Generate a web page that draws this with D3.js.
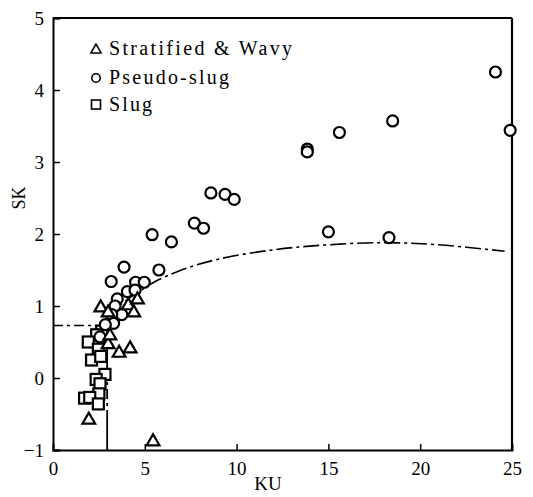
<!DOCTYPE html>
<html><head><meta charset="utf-8">
<script src="https://cdn.jsdelivr.net/npm/d3@7"></script>
<style>body{margin:0;background:#fff}svg{display:block}text{font-family:"Liberation Serif","DejaVu Serif",serif;fill:#000}</style>
</head><body><svg id="c" width="533" height="497"></svg>
<script>
const xTicks = [0,5,10,15,20,25];
const yTicks = [-1,0,1,2,3,4,5];
const legendLabels = ["Stratified & Wavy","Pseudo-slug","Slug"];
const stratified = [[2.6,0.99],[3.0,0.92],[4.1,1.02],[4.6,1.1],[4.4,0.92],[3.0,0.48],[3.6,0.36],[4.2,0.42],[3.1,0.6],[1.95,-0.57],[5.45,-0.87]];
const pseudoSlug = [[24.1,4.25],[24.9,3.44],[18.5,3.57],[15.6,3.41],[13.85,3.18],[13.85,3.14],[15.0,2.03],[18.3,1.95],
 [8.6,2.57],[9.37,2.55],[9.87,2.48],[7.7,2.15],[8.2,2.08],[5.4,1.99],[6.45,1.89],[5.77,1.5],
 [3.87,1.54],[3.17,1.34],[4.5,1.33],[4.97,1.33],[4.05,1.2],[4.47,1.22],[3.5,1.1],[3.38,1.0],[3.75,0.88],[3.2,0.88],[3.3,0.76],[2.85,0.74],[2.56,0.57]];
const slug = [[2.65,0.65],[2.38,0.6],[1.92,0.5],[2.47,0.4],[2.1,0.25],[2.6,0.3],[2.83,0.05],[2.35,-0.02],[2.56,-0.08],[2.5,-0.22],[1.72,-0.28],[2.0,-0.27],[2.47,-0.36]];
const boundaryCurve = [[3.0,0.78],[3.5,0.97],[4,1.08],[4.7,1.2],[5.5,1.33],[7,1.5],[9,1.65],[12,1.78],[15,1.85],[18,1.88],[21,1.85],[24.6,1.76]];
const boundaryHoriz = [[0,0.73],[2.95,0.73]];
const boundaryVert = [[2.95,-1],[2.95,0.73]];

const svg = d3.select("#c");
const x = d3.scaleLinear().domain([0,25]).range([53,512]);
const y = d3.scaleLinear().domain([-1,5]).range([450,18]);

// frame
svg.append("line").attr("x1",x(0)).attr("x2",x(25)).attr("y1",y(5)).attr("y2",y(5)).attr("stroke","#000").attr("stroke-width",2);
svg.append("line").attr("x1",x(25)).attr("x2",x(25)).attr("y1",y(5)).attr("y2",y(-1)).attr("stroke","#000").attr("stroke-width",2.2);

const xAxis = svg.append("g").attr("transform",`translate(0,${y(-1)})`)
  .call(d3.axisBottom(x).tickValues(xTicks).tickSize(-6).tickPadding(12).tickFormat(d3.format("d")));
const yAxis = svg.append("g").attr("transform",`translate(${x(0)},0)`)
  .call(d3.axisLeft(y).tickValues(yTicks).tickSize(-7).tickPadding(9).tickFormat(d=>d<0?"\u2212"+(-d):d));
[xAxis,yAxis].forEach(g=>{
  g.select(".domain").attr("stroke","#000").attr("stroke-width",2);
  g.selectAll(".tick line").attr("stroke","#000").attr("stroke-width",1.5);
  g.selectAll("text").style("font-size","19px").attr("fill","#000");
});
xAxis.selectAll(".tick").filter(d=>d===0||d===25).select("line").remove();

svg.append("text").attr("x",268).attr("y",490).attr("text-anchor","middle").style("font-size","19px").text("KU");
svg.append("text").attr("transform","translate(25,198) rotate(-90)").attr("text-anchor","middle").style("font-size","18px").text("SK");

// boundaries
const line = d3.line().x(d=>x(d[0])).y(d=>y(d[1]));
svg.append("path").datum(boundaryCurve).attr("d",line.curve(d3.curveCatmullRom)).attr("fill","none").attr("stroke","#000").attr("stroke-width",1.6).attr("stroke-dasharray","16,4,3,4");
svg.append("path").datum(boundaryHoriz).attr("d",d3.line().x(d=>x(d[0])).y(d=>y(d[1]))).attr("fill","none").attr("stroke","#000").attr("stroke-width",1.6).attr("stroke-dasharray","10,4,3,4");
svg.append("path").datum(boundaryVert).attr("d",d3.line().x(d=>x(d[0])).y(d=>y(d[1]))).attr("fill","none").attr("stroke","#000").attr("stroke-width",1.8).attr("stroke-dasharray","40,4,3,4,10,4,3,4");

// markers
const sw = 2.2;
svg.append("g").selectAll("rect").data(slug).join("rect")
  .attr("x",d=>x(d[0])-5.5).attr("y",d=>y(d[1])-5.5).attr("width",11).attr("height",11)
  .attr("fill","#fff").attr("stroke","#000").attr("stroke-width",sw);
svg.append("g").selectAll("circle").data(pseudoSlug).join("circle")
  .attr("cx",d=>x(d[0])).attr("cy",d=>y(d[1])).attr("r",5.5)
  .attr("fill","#fff").attr("stroke","#000").attr("stroke-width",sw);
const tri = d3.symbol().type(d3.symbolTriangle).size(70);
svg.append("g").selectAll("path").data(stratified).join("path")
  .attr("transform",d=>`translate(${x(d[0])},${y(d[1])+1})`).attr("d",tri)
  .attr("fill","#fff").attr("stroke","#000").attr("stroke-width",sw);

// legend
const lg = svg.append("g");
const lys = [49,78,105];
const mx = 96;
lg.append("path").attr("transform",`translate(${mx},${lys[0]+1})`).attr("d",d3.symbol().type(d3.symbolTriangle).size(45)).attr("fill","#fff").attr("stroke","#000").attr("stroke-width",1.6);
lg.append("circle").attr("cx",mx).attr("cy",lys[1]).attr("r",4.2).attr("fill","#fff").attr("stroke","#000").attr("stroke-width",1.6);
lg.append("rect").attr("x",mx-4.5).attr("y",lys[2]-5).attr("width",9).attr("height",9).attr("fill","#fff").attr("stroke","#000").attr("stroke-width",1.6);
const lens = [183,120,43];
legendLabels.forEach((t,i)=>{
  lg.append("text").attr("x",109).attr("y",lys[i]+6).style("font-size","20px")
    .attr("textLength",lens[i]).attr("lengthAdjust","spacing").text(t);
});
</script></body></html>
